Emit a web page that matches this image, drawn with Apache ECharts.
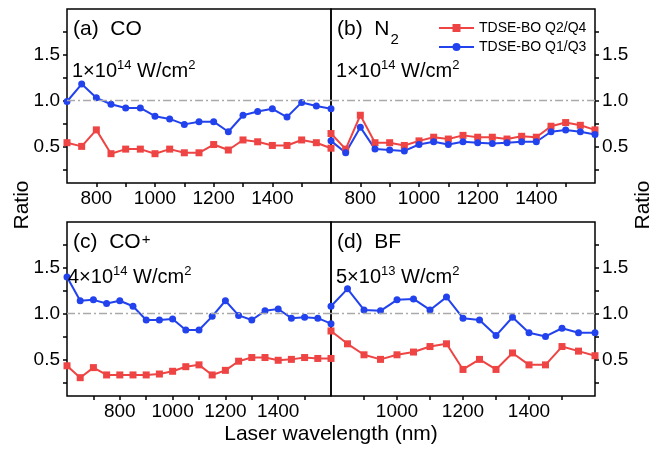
<!DOCTYPE html>
<html>
<head>
<meta charset="utf-8">
<script src="https://cdn.jsdelivr.net/npm/echarts@6/dist/echarts.min.js"></script>
<style>
  html, body { margin: 0; padding: 0; background: #fff; }
  #main { width: 664px; height: 458px; }
</style>
</head>
<body>
<div id="main"></div>
<script>
// wavelengths (nm)
var wlA = [700,750,800,850,900,950,1000,1050,1100,1150,1200,1250,1300,1350,1400,1450,1500,1550,1600];
var wlC = [600,650,700,750,800,850,900,950,1000,1050,1100,1150,1200,1250,1300,1350,1400,1450,1500,1550,1600];
var wlD = [800,850,900,950,1000,1050,1100,1150,1200,1250,1300,1350,1400,1450,1500,1550,1600];

// (a) CO
var coQ24 = [0.54,0.50,0.68,0.42,0.47,0.47,0.42,0.47,0.43,0.43,0.52,0.46,0.57,0.55,0.51,0.51,0.57,0.54,0.48];
var coQ13 = [0.99,1.18,1.03,0.96,0.92,0.92,0.83,0.80,0.74,0.77,0.77,0.66,0.84,0.88,0.91,0.82,0.98,0.94,0.91];
// (b) N2
var n2Q24 = [0.64,0.47,0.84,0.54,0.54,0.51,0.56,0.60,0.58,0.62,0.60,0.60,0.58,0.61,0.60,0.72,0.76,0.73,0.68];
var n2Q13 = [0.56,0.43,0.71,0.47,0.46,0.45,0.52,0.55,0.52,0.55,0.54,0.53,0.54,0.55,0.55,0.66,0.68,0.66,0.63];
// (c) CO+
var copQ24 = [0.43,0.30,0.41,0.33,0.33,0.33,0.33,0.34,0.37,0.42,0.44,0.33,0.38,0.48,0.52,0.52,0.49,0.50,0.52,0.51,0.51];
var copQ13 = [1.40,1.14,1.15,1.11,1.14,1.08,0.93,0.93,0.94,0.82,0.82,0.97,1.14,0.98,0.93,1.03,1.05,0.95,0.96,0.95,0.89];
// (d) BF
var bfQ24 = [0.81,0.67,0.55,0.50,0.55,0.58,0.64,0.67,0.39,0.50,0.39,0.57,0.44,0.44,0.64,0.59,0.54];
var bfQ13 = [1.08,1.27,1.04,1.03,1.15,1.16,1.04,1.18,0.95,0.93,0.76,0.96,0.79,0.75,0.84,0.79,0.79];

// ticks
var xLabelsAB = [800,1000,1200,1400];
var xTicksAB = [800,900,1000,1100,1200,1300,1400,1500];
var xLabelsC = [800,1000,1200,1400];
var xTicksC = [700,800,900,1000,1100,1200,1300,1400,1500];
var xLabelsD = [1000,1200,1400];
var xTicksD = [900,1000,1100,1200,1300,1400,1500];
var yLabels = [0.5,1.0,1.5];
var yTicks = [0.25,0.5,0.75,1.0,1.25,1.5,1.75];

var nameQ24 = 'TDSE-BO Q2/Q4';
var nameQ13 = 'TDSE-BO Q1/Q3';
var RED = '#EE4444';
var BLUE = '#2242EE';
var FONT = 'Liberation Sans';

function pairs(xs, ys) {
  return xs.map(function (x, i) { return [x, ys[i]]; });
}

function xAxisOf(idx, min, max, labels, ticks) {
  return {
    type: 'value', gridIndex: idx, min: min, max: max,
    axisLine: { show: false },
    splitLine: { show: false },
    axisTick: { show: true, customValues: ticks, length: 4, lineStyle: { color: '#000', width: 1.5 } },
    axisLabel: {
      customValues: labels, color: '#000', fontSize: 19, fontFamily: FONT, margin: 6,
      formatter: function (v) { return String(v); }
    }
  };
}

function yAxisOf(idx, pos) {
  return {
    type: 'value', gridIndex: idx, min: 0.1, max: 2.0, position: pos,
    axisLine: { show: false },
    splitLine: { show: false },
    axisTick: { show: true, customValues: yTicks, length: 4, lineStyle: { color: '#000', width: 1.5 } },
    axisLabel: {
      customValues: yLabels, color: '#000', fontSize: 19, fontFamily: FONT, margin: 7,
      formatter: function (v) { return v.toFixed(1); }
    }
  };
}

function seriesPair(idx, xs, q24, q13) {
  return [
    {
      name: nameQ24, type: 'line', xAxisIndex: idx, yAxisIndex: idx,
      data: pairs(xs, q24), symbol: 'rect', symbolSize: 7,
      itemStyle: { color: RED }, lineStyle: { color: RED, width: 2 }
    },
    {
      name: nameQ13, type: 'line', xAxisIndex: idx, yAxisIndex: idx,
      data: pairs(xs, q13), symbol: 'circle', symbolSize: 7,
      itemStyle: { color: BLUE }, lineStyle: { color: BLUE, width: 2 },
      markLine: {
        silent: true, symbol: 'none', label: { show: false },
        lineStyle: { color: '#AAAAAA', width: 1.3, type: [8, 3, 2, 3] },
        data: [{ yAxis: 1.0 }]
      }
    }
  ];
}

function label(x, y, text, rich) {
  return {
    type: 'text', x: x, y: y, z: 100,
    style: {
      text: text, rich: rich, fill: '#000', verticalAlign: 'top',
      fontFamily: FONT
    }
  };
}

var titleRich = {
  t: { fontSize: 21, verticalAlign: 'top', fontFamily: FONT },
  sub: { fontSize: 15, padding: [13, 0, 0, 1], verticalAlign: 'top', fontFamily: FONT },
  sup: { fontSize: 15, verticalAlign: 'top', padding: [0, 0, 0, 1], fontFamily: FONT }
};
var intRich = {
  t: { fontSize: 20, lineHeight: 22, verticalAlign: 'bottom', fontFamily: FONT },
  sup: { fontSize: 13, lineHeight: 10, verticalAlign: 'top', fontFamily: FONT }
};

var gridStyle = { show: true, borderColor: '#000', borderWidth: 1.5, containLabel: false };

var chart = echarts.init(document.getElementById('main'), null, { renderer: 'canvas' });

var option = {
  animation: false,
  backgroundColor: '#fff',
  grid: [
    Object.assign({ left: 67, top: 9, width: 264, height: 174 }, gridStyle),
    Object.assign({ left: 331, top: 9, width: 264, height: 174 }, gridStyle),
    Object.assign({ left: 67, top: 222, width: 264, height: 174 }, gridStyle),
    Object.assign({ left: 331, top: 222, width: 264, height: 174 }, gridStyle)
  ],
  xAxis: [
    xAxisOf(0, 700, 1600, xLabelsAB, xTicksAB),
    xAxisOf(1, 700, 1600, xLabelsAB, xTicksAB),
    xAxisOf(2, 600, 1600, xLabelsC, xTicksC),
    xAxisOf(3, 800, 1600, xLabelsD, xTicksD)
  ],
  yAxis: [
    yAxisOf(0, 'left'),
    yAxisOf(1, 'right'),
    yAxisOf(2, 'left'),
    yAxisOf(3, 'right')
  ],
  legend: {
    data: [nameQ24, nameQ13],
    orient: 'vertical', left: 433, top: 16,
    itemWidth: 35, itemHeight: 10, itemGap: 5,
    textStyle: { fontSize: 14, color: '#000', fontFamily: FONT },
    selectedMode: false
  },
  series: [].concat(
    seriesPair(0, wlA, coQ24, coQ13),
    seriesPair(1, wlA, n2Q24, n2Q13),
    seriesPair(2, wlC, copQ24, copQ13),
    seriesPair(3, wlD, bfQ24, bfQ13)
  ),
  graphic: [
    label(73, 19, '{t|(a)  CO}', titleRich),
    label(337, 19, '{t|(b)  N}{sub|2}', titleRich),
    label(73, 232, '{t|(c)  CO}{sup|+}', titleRich),
    label(337, 232, '{t|(d)  BF}', titleRich),
    label(72, 59, '{t|1×10}{sup|14}{t| W/cm}{sup|2}', intRich),
    label(336, 59, '{t|1×10}{sup|14}{t| W/cm}{sup|2}', intRich),
    label(68, 265, '{t|4×10}{sup|14}{t| W/cm}{sup|2}', intRich),
    label(336, 265, '{t|5×10}{sup|13}{t| W/cm}{sup|2}', intRich),
    {
      type: 'text', x: 22, y: 205, rotation: Math.PI / 2,
      style: { text: 'Ratio', fontSize: 21, fontFamily: FONT, fill: '#000', align: 'center', verticalAlign: 'middle' }
    },
    {
      type: 'text', x: 643, y: 205, rotation: Math.PI / 2,
      style: { text: 'Ratio', fontSize: 21, fontFamily: FONT, fill: '#000', align: 'center', verticalAlign: 'middle' }
    },
    {
      type: 'text', x: 331, y: 434,
      style: { text: 'Laser wavelength (nm)', fontSize: 21, fontFamily: FONT, fill: '#000', align: 'center', verticalAlign: 'middle' }
    }
  ]
};

chart.setOption(option);
</script>
</body>
</html>
